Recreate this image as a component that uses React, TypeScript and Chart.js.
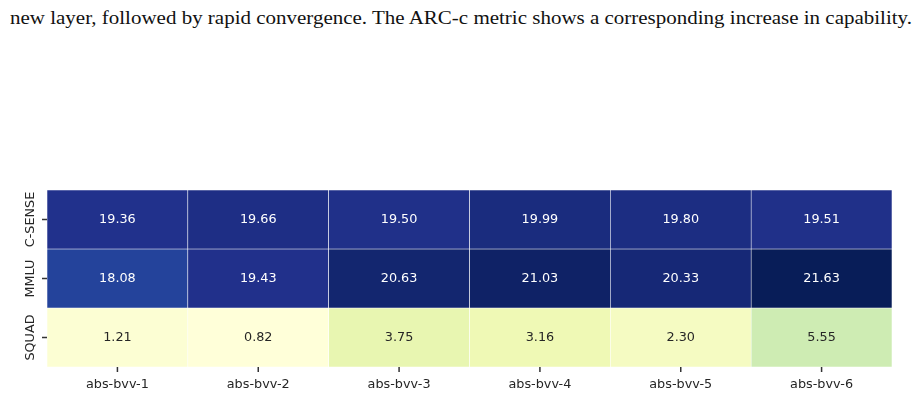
import { useEffect, useLayoutEffect, useRef } from "react";
import { Chart, registerables } from "chart.js";

Chart.register(...registerables);

// Column and row labels of the score grid
const models = ["abs-bvv-1", "abs-bvv-2", "abs-bvv-3", "abs-bvv-4", "abs-bvv-5", "abs-bvv-6"];
const tasks = ["C-SENSE", "MMLU", "SQUAD"];

// Scores per task, one entry per model
const cSenseScores = [19.36, 19.66, 19.5, 19.99, 19.8, 19.51];
const mmluScores = [18.08, 19.43, 20.63, 21.03, 20.33, 21.63];
const squadScores = [1.21, 0.82, 3.75, 3.16, 2.3, 5.55];

const rows = [cSenseScores, mmluScores, squadScores];

const caption =
  "new layer, followed by rapid convergence. The ARC-c metric shows a corresponding increase in capability.";

// ColorBrewer YlGnBu stops
const ylGnBu = [
  [255, 255, 217],
  [237, 248, 177],
  [199, 233, 180],
  [127, 205, 187],
  [65, 182, 196],
  [29, 145, 192],
  [34, 94, 168],
  [37, 52, 148],
  [8, 29, 88],
];

const allValues = rows.flat();
const vMin = Math.min(...allValues);
const vMax = Math.max(...allValues);

function rgbFor(v: number): number[] {
  const t = Math.max(0, Math.min(1, (v - vMin) / (vMax - vMin)));
  const pos = t * (ylGnBu.length - 1);
  const i = Math.min(ylGnBu.length - 2, Math.floor(pos));
  const f = pos - i;
  const a = ylGnBu[i];
  const b = ylGnBu[i + 1];
  return [0, 1, 2].map((k) => a[k] + (b[k] - a[k]) * f);
}

function cssColor(rgb: number[]): string {
  return `rgb(${rgb.map((c) => Math.round(c)).join(",")})`;
}

function luminance(rgb: number[]): number {
  const lin = rgb.map((c) => {
    const s = c / 255;
    return s <= 0.03928 ? s / 12.92 : Math.pow((s + 0.055) / 1.055, 2.4);
  });
  return 0.2126 * lin[0] + 0.7152 * lin[1] + 0.0722 * lin[2];
}

const FONT = "DejaVu Sans";
const FONT_SIZE = 12.8;
const TICK_COLOR = "#262626";
const TICK_LEN = 5;

// Writes each cell's score in its centre
const cellLabels = {
  id: "cellLabels",
  afterDatasetsDraw(chart: any) {
    const ctx = chart.ctx;
    ctx.save();
    ctx.font = `${FONT_SIZE}px "${FONT}"`;
    ctx.textAlign = "center";
    ctx.textBaseline = "middle";
    chart.data.datasets.forEach((ds: any, i: number) => {
      const meta = chart.getDatasetMeta(i);
      meta.data.forEach((el: any, j: number) => {
        const v = ds.scores[j];
        const { x, y } = el.getCenterPoint();
        ctx.fillStyle = luminance(rgbFor(v)) > 0.408 ? "#262626" : "#ffffff";
        ctx.fillText(v.toFixed(2), x, y);
      });
    });
    ctx.restore();
  },
};

// Tick marks on both axes and rotated task names on the left
const axisDecor = {
  id: "axisDecor",
  afterDraw(chart: any) {
    const ctx = chart.ctx;
    const xScale = chart.scales.x;
    const yScale = chart.scales.y;
    const area = chart.chartArea;
    ctx.save();
    ctx.fillStyle = "#333333";
    models.forEach((_, c) => {
      const x = xScale.getPixelForValue(c);
      ctx.fillRect(x - 0.75, area.bottom, 1.5, TICK_LEN);
    });
    tasks.forEach((_, r) => {
      const y = yScale.getPixelForValue(r + 0.5);
      ctx.fillRect(area.left - TICK_LEN, y - 0.75, TICK_LEN, 1.5);
    });

    ctx.fillStyle = TICK_COLOR;
    ctx.font = `${FONT_SIZE}px "${FONT}"`;
    ctx.textAlign = "center";
    ctx.textBaseline = "alphabetic";
    tasks.forEach((name, r) => {
      const yc = yScale.getPixelForValue(r + 0.5);
      ctx.save();
      ctx.translate(area.left - 13, yc);
      ctx.rotate(-Math.PI / 2);
      ctx.fillText(name, 0, 0);
      ctx.restore();
    });
    ctx.restore();
  },
};

function Caption() {
  const ref = useRef<HTMLSpanElement>(null);
  useLayoutEffect(() => {
    const el = ref.current;
    if (!el) return;
    el.style.transform = "none";
    const w = el.getBoundingClientRect().width;
    if (w > 0) el.style.transform = `scaleX(${902 / w})`;
  }, []);
  return (
    <span
      ref={ref}
      style={{
        position: "absolute",
        left: 10,
        top: 8,
        whiteSpace: "nowrap",
        fontFamily: '"Liberation Serif", serif',
        fontSize: 19,
        lineHeight: "19px",
        color: "#111",
        transformOrigin: "left top",
        display: "inline-block",
      }}
    >
      {caption}
    </span>
  );
}

export default function App() {
  const canvasRef = useRef<HTMLCanvasElement>(null);

  useEffect(() => {
    const canvas = canvasRef.current;
    if (!canvas) return;

    const datasets = rows.map((scores, r) => ({
      label: tasks[r],
      scores,
      data: scores.map(() => [r, r + 1]),
      backgroundColor: scores.map((v) => cssColor(rgbFor(v))),
      borderColor: "#ffffff",
      borderWidth: 0.6,
      borderSkipped: false,
      barPercentage: 1,
      categoryPercentage: 1,
      grouped: false,
    }));

    const chart = new Chart(canvas, {
      type: "bar",
      data: { labels: models, datasets: datasets as any },
      options: {
        animation: false,
        responsive: false,
        devicePixelRatio: 1,
        layout: { padding: { left: 0, right: 25, top: 190, bottom: 0 } },
        plugins: { legend: { display: false }, tooltip: { enabled: false } },
        scales: {
          x: {
            type: "category",
            offset: true,
            grid: { display: false },
            border: { display: false },
            ticks: {
              color: TICK_COLOR,
              font: { family: FONT, size: FONT_SIZE },
              padding: 2,
              maxRotation: 0,
              minRotation: 0,
            },
            afterFit: (s: any) => {
              s.height = 26;
            },
          },
          y: {
            type: "linear",
            min: 0,
            max: 3,
            reverse: true,
            grid: { display: false },
            border: { display: false },
            ticks: { display: false },
            afterBuildTicks: (s: any) => {
              s.ticks = tasks.map((_, r) => ({ value: r + 0.5 }));
            },
            afterFit: (s: any) => {
              s.width = 47;
            },
          },
        },
      },
      plugins: [cellLabels, axisDecor],
    });

    return () => chart.destroy();
  }, []);

  return (
    <div style={{ position: "absolute", left: 0, top: 0, width: 917, height: 393, background: "#fff", overflow: "hidden" }}>
      <Caption />
      <canvas ref={canvasRef} width={917} height={393} style={{ display: "block", position: "absolute", left: 0, top: 0 }} />
    </div>
  );
}
